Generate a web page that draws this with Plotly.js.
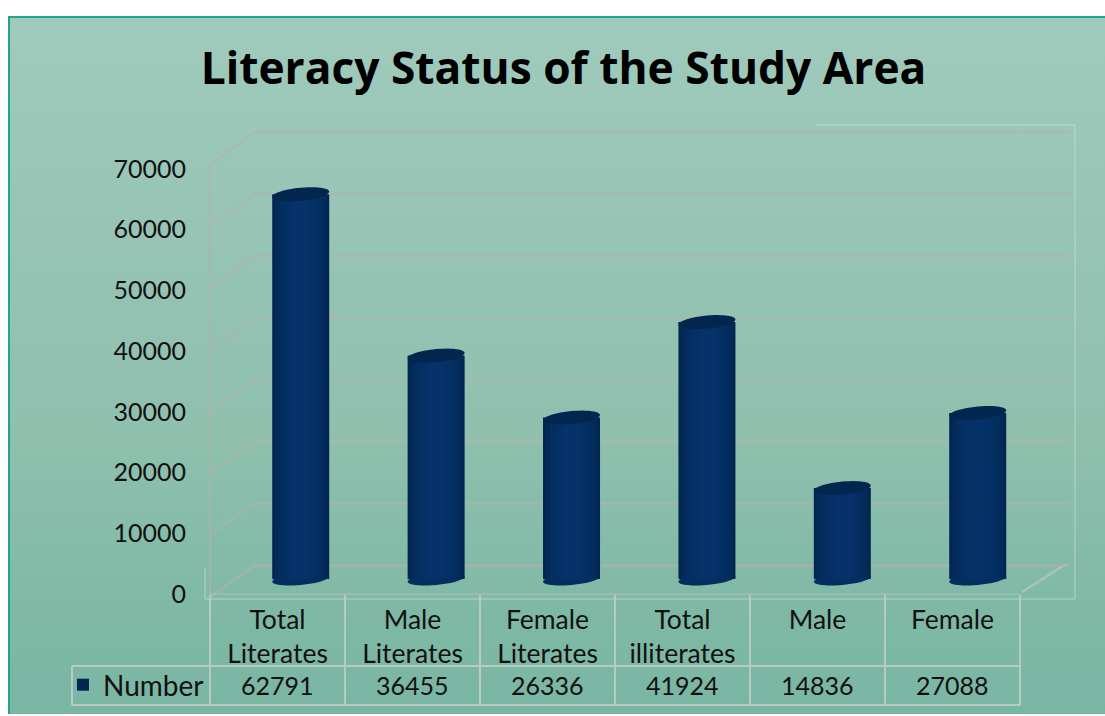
<!DOCTYPE html>
<html><head><meta charset="utf-8">
<script src="https://cdn.plot.ly/plotly-3.0.1.min.js"></script>
<style>
html,body{margin:0;padding:0;background:#fff;width:1105px;height:716px;overflow:hidden}
#bg{position:absolute;left:8px;top:16px;width:1097px;height:698px;border-left:2px solid #1fa58e;border-top:2px solid #1fa58e;box-sizing:border-box;
background:linear-gradient(180deg,#a0cbbc 0%,#97c4b5 30%,#8fc0ae 60%,#7fb9a6 85%,#79b6a3 100%)}
#chart{position:absolute;left:0;top:0;width:1105px;height:716px}
</style></head><body>
<div id="bg"></div><div id="chart"></div>
<script>
const categories = ["Total<br>Literates","Male<br>Literates","Female<br>Literates","Total<br>illiterates","Male<br>","Female<br>"];
const values = [62791,36455,26336,41924,14836,27088];
const seriesName = "Number";
const yTicks = [0,10000,20000,30000,40000,50000,60000,70000];
const titleText = "Literacy Status of the Study Area";

const W=1105,H=716;
const X=p=>p/W, Y=p=>1-p/H;
const FONT='Lato, "Open Sans", sans-serif';
const idx=values.map((_,i)=>i);
const grid='rgba(178,178,172,0.55)', light='rgba(205,222,214,0.7)', tbl='rgba(190,205,198,0.9)';

// px scale of the bar axis: 429 px for 70000 units
const unitsPerPx=70000/429;
const barWidth=0.421;
const strips=[[1,'#02264f'],[0.9,'#032a58'],[0.76,'#042d60'],[0.56,'#052f65'],[0.3,'#06326a']];

const traces=[];
// table/axis-label subplot
traces.push({type:'scatter',mode:'markers',x:categories,y:values,xaxis:'x',yaxis:'y',marker:{opacity:0},showlegend:false,hoverinfo:'skip'});
// back wall subplot (gridlines)
traces.push({type:'scatter',mode:'markers',x:idx,y:values,xaxis:'x2',yaxis:'y2',marker:{opacity:0},showlegend:false,hoverinfo:'skip'});
// cylinders
strips.forEach((s,k)=>traces.push({type:'bar',name:seriesName,x:idx,y:values,xaxis:'x3',yaxis:'y3',width:barWidth*s[0],
  marker:{color:s[1],line:{width:0}},showlegend:k===0,hoverinfo:k===0?'x+y':'skip'}));

function ellipsePath(cx,cy,a,bPx,tiltPx){
  let pts=[];const n=48;
  for(let i=0;i<=n;i++){const t=2*Math.PI*i/n;
    pts.push((cx+a*Math.cos(t))+','+(cy+(bPx*Math.sin(t)+tiltPx*Math.cos(t))*unitsPerPx));}
  return 'M'+pts.join('L')+'Z';
}
const shapes=[];
values.forEach((v,i)=>{
  shapes.push({type:'path',xref:'x3',yref:'y3',layer:'above',path:ellipsePath(i,v,barWidth/2,6.5,2.6),fillcolor:'#03264f',line:{width:0}});
  shapes.push({type:'path',xref:'x3',yref:'y3',layer:'between',path:ellipsePath(i,0,barWidth/2,6,2.6),fillcolor:'#042d60',line:{width:0}});
});
const pl=(x0,y0,x1,y1,c,w)=>shapes.push({type:'line',xref:'paper',yref:'paper',layer:'below',x0:X(x0),y0:Y(y0),x1:X(x1),y1:Y(y1),line:{color:c,width:w}});
// outer light frame
pl(815,125,1075,125,light,1);pl(1075,125,1075,599,light,1);pl(205,599,1075,599,light,1);pl(205,567,205,599,light,1);
// left wall
pl(210,165,210,597,grid,2.5);
yTicks.forEach(t=>{const yf=597-t/70000*432, yb=565-t/70000*433; pl(210,yf,255,yb,grid,2.5);});
// floor right edge
pl(1022,592,1066,564,'rgba(190,200,192,0.7)',2.5);
pl(210,594,1020,594,'rgba(178,195,185,0.5)',2);
// data table
[210,345,480,615,750,885,1020].forEach(x=>pl(x,595,x,705,tbl,2));
pl(72,666,1020,666,tbl,2);pl(72,705,1020,705,tbl,2);pl(72,666,72,705,tbl,2);

const annotations=values.map((v,i)=>({xref:'x',yref:'paper',x:i,y:Y(685),text:String(v),showarrow:false,yanchor:'middle',xanchor:'center',font:{family:FONT,size:25,color:'#111'}}));

const wallPad=700, wallPx=433/70000*wallPad;
const layout={
  width:W,height:H,margin:{l:0,r:0,t:0,b:0},
  paper_bgcolor:'rgba(0,0,0,0)',plot_bgcolor:'rgba(0,0,0,0)',
  barmode:'overlay',
  title:{text:'<b>'+titleText+'</b>',x:X(563.5),xanchor:'center',y:Y(68),yanchor:'middle',font:{family:'"Open Sans", sans-serif',size:44.3,color:'#000'}},
  font:{family:FONT,color:'#111'},
  xaxis:{domain:[X(210),X(1020)],range:[-0.5,5.5],type:'category',categoryorder:'array',categoryarray:categories,showgrid:false,zeroline:false,showline:false,ticks:'',
    tickfont:{family:FONT,size:26.5,color:'#111'},anchor:'y',ticklabelstandoff:7},
  yaxis:{domain:[Y(594),Y(169)],range:[0,70000],tickvals:yTicks,showgrid:false,zeroline:false,showline:false,ticks:'',tickformat:'d',
    tickfont:{family:FONT,size:25,color:'#111'},anchor:'x',ticklabelstandoff:23},
  xaxis2:{domain:[X(255),X(1070)],range:[-0.5,5.5],visible:false,anchor:'y2'},
  yaxis2:{domain:[Y(565+wallPx),Y(132-wallPx)],range:[-wallPad,70000+wallPad],tickvals:yTicks,showticklabels:false,showgrid:true,gridcolor:grid,gridwidth:2.5,zeroline:false,ticks:'',anchor:'x2'},
  xaxis3:{domain:[X(210),X(1022.4)],range:[-0.67,5.33],visible:false,anchor:'y3'},
  yaxis3:{domain:[Y(594),Y(150)],range:[-15*unitsPerPx,70000],visible:false,anchor:'x3'},
  legend:{x:X(63),y:Y(685),xanchor:'left',yanchor:'middle',bgcolor:'rgba(0,0,0,0)',borderwidth:0,font:{family:FONT,size:28,color:'#111'},itemclick:false,itemdoubleclick:false},
  showlegend:true,
  shapes,annotations
};
Plotly.newPlot('chart',traces,layout,{displayModeBar:false,responsive:false});
</script></body></html>
